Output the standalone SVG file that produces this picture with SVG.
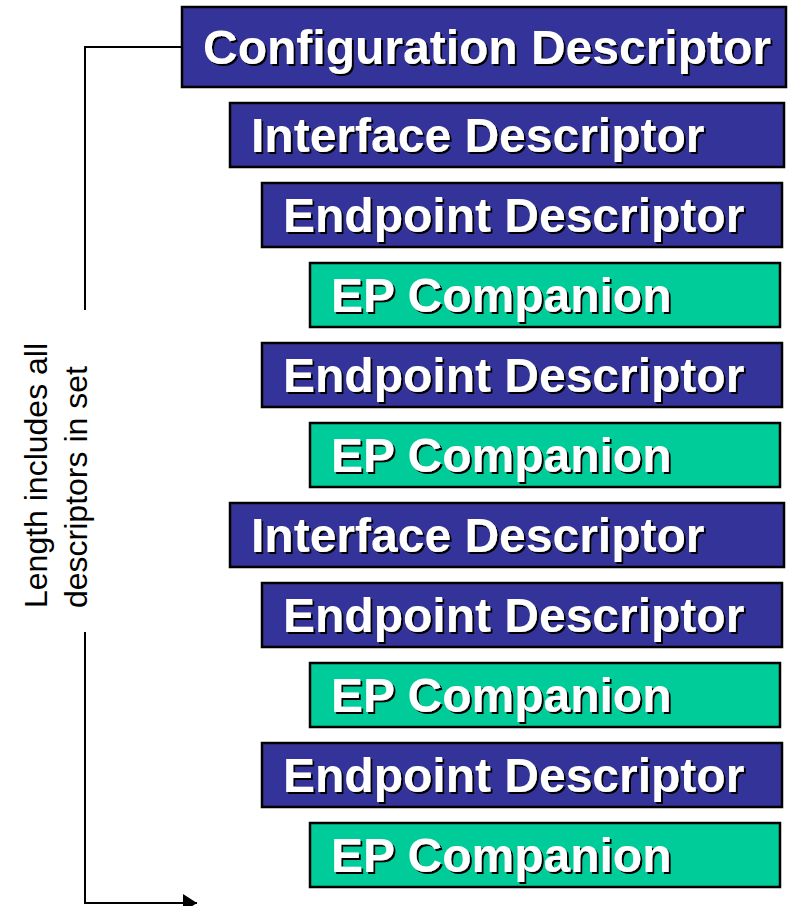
<svg xmlns="http://www.w3.org/2000/svg" width="790" height="906" viewBox="0 0 790 906">
<style>
.blue{fill:#333399;stroke:#000;stroke-width:2.5}
.green{fill:#00CC99;stroke:#000;stroke-width:2.5}
.t{font-family:"Liberation Sans",Arial,sans-serif;font-weight:bold;font-size:48px;fill:#fff;filter:url(#shadow)}
.lbl{font-family:"Liberation Sans",Arial,sans-serif;font-size:32px;fill:#000}
.conn{fill:none;stroke:#000;stroke-width:2}
</style>
<defs>
<filter id="shadow" x="-5%" y="-20%" width="110%" height="140%">
<feFlood flood-color="#000" result="c"/>
<feComposite in="c" in2="SourceAlpha" operator="in" result="s"/>
<feOffset in="s" dx="2" dy="2" result="o"/>
<feMerge><feMergeNode in="o"/><feMergeNode in="SourceGraphic"/></feMerge>
</filter>
<marker id="arr" markerWidth="14" markerHeight="18" refX="14" refY="9" orient="auto" markerUnits="userSpaceOnUse">
<path d="M0,0 L14,9 L0,18 Z" fill="#000"/>
</marker>
</defs>
<rect width="790" height="906" fill="#fff"/>
<g id="connectors">
<polyline class="conn" points="182,47 85,47 85,310"/>
<polyline class="conn" points="85,632 85,903 197,903" marker-end="url(#arr)"/>
</g>
<g id="label">
<text class="lbl" transform="translate(47,608) rotate(-90)"><tspan x="0" y="0">Length includes all</tspan><tspan x="0" y="40">descriptors in set</tspan></text>
</g>
<g id="config">
<rect class="blue" x="182" y="7" width="604" height="80"/>
<text class="t" x="203" y="64">Configuration Descriptor</text>
</g>
<g id="if1">
<rect class="blue" x="230" y="103" width="554" height="64"/>
<text class="t" x="251" y="152">Interface Descriptor</text>
</g>
<g id="ep1">
<rect class="blue" x="262" y="183" width="520" height="64"/>
<text class="t" x="283" y="232">Endpoint Descriptor</text>
</g>
<g id="epc1">
<rect class="green" x="310" y="263" width="470" height="64"/>
<text class="t" x="331" y="312">EP Companion</text>
</g>
<g id="ep2">
<rect class="blue" x="262" y="343" width="520" height="64"/>
<text class="t" x="283" y="392">Endpoint Descriptor</text>
</g>
<g id="epc2">
<rect class="green" x="310" y="423" width="470" height="64"/>
<text class="t" x="331" y="472">EP Companion</text>
</g>
<g id="if2">
<rect class="blue" x="230" y="503" width="554" height="64"/>
<text class="t" x="251" y="552">Interface Descriptor</text>
</g>
<g id="ep3">
<rect class="blue" x="262" y="583" width="520" height="64"/>
<text class="t" x="283" y="632">Endpoint Descriptor</text>
</g>
<g id="epc3">
<rect class="green" x="310" y="663" width="470" height="64"/>
<text class="t" x="331" y="712">EP Companion</text>
</g>
<g id="ep4">
<rect class="blue" x="262" y="743" width="520" height="64"/>
<text class="t" x="283" y="792">Endpoint Descriptor</text>
</g>
<g id="epc4">
<rect class="green" x="310" y="823" width="470" height="64"/>
<text class="t" x="331" y="872">EP Companion</text>
</g>
</svg>
